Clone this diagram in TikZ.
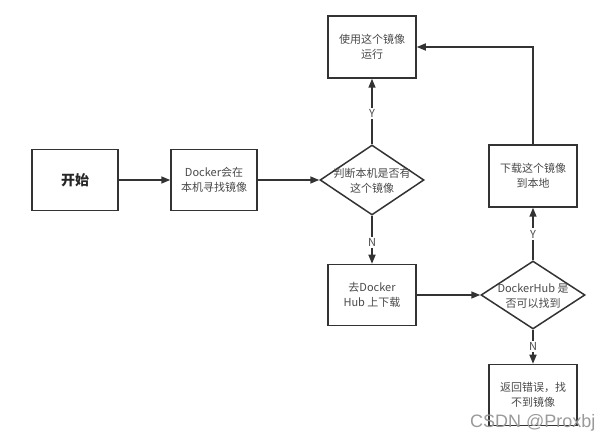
\documentclass[tikz,border=0pt]{standalone}
\usepackage{fontspec}
\newfontfamily\cjk{Noto Sans CJK SC}
\newfontfamily\wmfont{Liberation Sans}
\usetikzlibrary{shapes.geometric,arrows.meta}
\definecolor{linec}{HTML}{333333}
\definecolor{textc}{HTML}{4A4A4A}
\definecolor{wmc}{HTML}{9A9A9A}
\tikzset{
  box/.style={draw=linec, line width=1.5pt, minimum width=88pt, minimum height=62pt, inner sep=0pt,
    align=center, text=textc, font=\cjk\fontsize{11}{15}\selectfont},
  dia/.style={draw=linec, line width=1.5pt, diamond, minimum width=104pt, minimum height=70pt, inner sep=0pt},
  dtext/.style={align=center, text=textc, font=\cjk\fontsize{11}{15}\selectfont, inner sep=0pt},
  conn/.style={draw=linec, line width=1.5pt, -{Triangle[length=9pt,width=7pt]}},
  lab/.style={fill=white, text=textc, font=\cjk\fontsize{11}{13}\selectfont, inner sep=1.5pt}
}
\begin{document}
\begin{tikzpicture}[x=1pt,y=-1pt]
\useasboundingbox[fill=white] (0,0) rectangle (608,438);
\node[box, minimum width=86pt, minimum height=61pt, font=\cjk\bfseries\fontsize{14}{16}\selectfont, text=black!85] (start) at (75,180) {开始};
\node[box, minimum width=86pt, minimum height=61pt] (find) at (214,180) {Docker会在\\本机寻找镜像};
\node[dia] (d1) at (372,180) {};
\node[dtext] (d1t) at (372,181) {判断本机是否有\\这个镜像};
\node[box] (use) at (372,47) {使用这个镜像\\运行};
\node[box] (dl) at (533,176) {下载这个镜像\\到本地};
\node[box, minimum height=61pt] (hub) at (372,295) {去Docker\\Hub 上下载};
\node[dia, minimum height=68pt] (d2) at (533,295) {};
\node[dtext] (d2t) at (533,296) {DockerHub 是\\否可以找到};
\node[box, minimum height=61pt] (err) at (533,395) {返回错误，找\\不到镜像};

\draw[conn] (start.east) -- (find.west);
\draw[conn] (find.east) -- (d1.west);
\draw[conn] (d1.north) -- node[lab, pos=0.47] (y1) {Y} (use.south);
\draw[conn] (d1.south) -- node[lab, pos=0.55] (n1) {N} (hub.north);
\draw[conn] (hub.east) -- (d2.west);
\draw[conn] (d2.north) -- node[lab, pos=0.5] (y2) {Y} (dl.south);
\draw[conn] (d2.south) -- node[lab, pos=0.5] (n2) {N} (err.north);
\draw[conn] (dl.north) |- (use.east);

\node[text=wmc, font=\wmfont\fontsize{18}{20}\selectfont, inner sep=0pt, anchor=base west] (wm) at (470,428) {CSDN @Proxbj};
\end{tikzpicture}
\end{document}
